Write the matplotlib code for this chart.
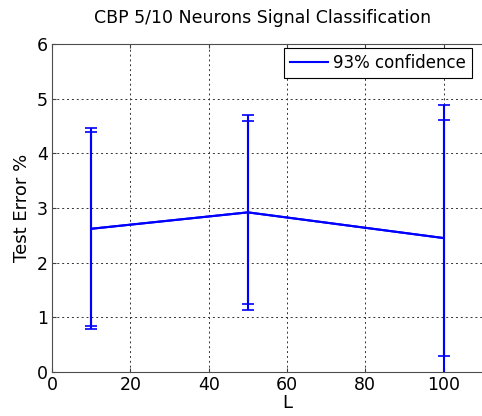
import matplotlib
matplotlib.use('Agg')
import matplotlib.pyplot as plt
from matplotlib.lines import Line2D
import numpy as np

# data
L = [10, 50, 100]
test_error = [2.62, 2.92, 2.45]
# 93% confidence (outer caps), lower / upper
err_outer_lo = [1.84, 1.78, 2.50]
err_outer_hi = [1.84, 1.78, 2.43]
# inner caps
err_inner = [1.77, 1.67, 2.16]

plt.rcParams['font.family'] = ['DejaVu Sans']

fig = plt.figure(figsize=(4.82, 4.16), dpi=100)
ax = fig.add_axes([52 / 482, 44 / 416, 470 / 482, 328 / 416])

ax.errorbar(L, test_error, yerr=[err_outer_lo, err_outer_hi], color='#0000ff',
            lw=1.5, capsize=4, capthick=1.2)
ax.errorbar(L, test_error, yerr=err_inner, color='#0000ff', lw=1.5,
            capsize=4, capthick=1.2)

ax.set_xlim(0, 120)
ax.set_ylim(0, 6)
ax.set_xticks(np.arange(0, 101, 20))
ax.set_yticks(np.arange(0, 7, 1))
ax.grid(True, color='0.2', linestyle=(0, (2, 3)), linewidth=0.7)
ax.tick_params(direction='in', length=3, top=True, right=True,
               labelsize=12.5, colors='0.25', labelcolor='black', pad=3)
for s in ax.spines.values():
    s.set_color('0.3')

fig.text(263 / 482, 1 - 18 / 416, 'CBP 5/10 Neurons Signal Classification',
         fontsize=12.5, ha='center', va='center')
ax.set_xlabel('L', fontsize=13, labelpad=0)
ax.set_ylabel('Test Error %', fontsize=13, labelpad=4)

handle = Line2D([], [], color='#0000ff', lw=1.5)
leg = ax.legend([handle], ['93% confidence'], loc='upper left',
                bbox_to_anchor=(284 / 482, 368 / 416),
                bbox_transform=fig.transFigure, fontsize=12, fancybox=False,
                handlelength=2.3, handletextpad=0.3, borderpad=0.35,
                borderaxespad=0, framealpha=1)
leg.get_frame().set_edgecolor('black')
leg.get_frame().set_linewidth(0.8)

fig.savefig('out.png', dpi=100)
